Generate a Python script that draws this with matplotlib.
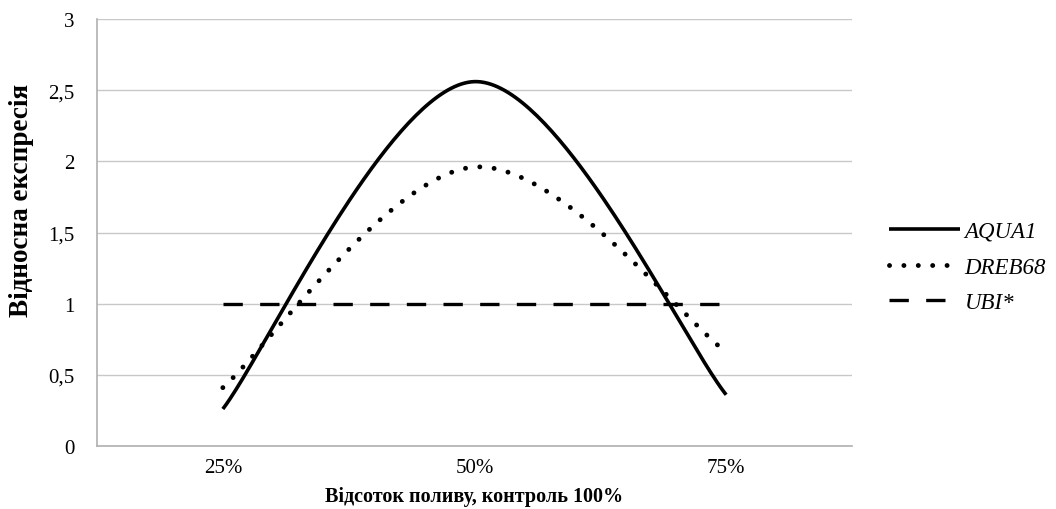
import numpy as np
import matplotlib
matplotlib.use("Agg")
import matplotlib.pyplot as plt
from matplotlib.lines import Line2D

categories = ["25%", "50%", "75%"]
aqua1 = [0.26, 2.56, 0.36]
dreb68 = [0.41, 1.96, 0.66]
ubi = [1.0, 1.0, 1.0]
series_names = ["AQUA1", "DREB68", "UBI*"]
y_ticks = [0, 0.5, 1, 1.5, 2, 2.5, 3]
y_tick_labels = ["0", "0,5", "1", "1,5", "2", "2,5", "3"]


def smooth(xs, ys, n=80):
    """Cubic Bezier smoothing through the points (spreadsheet-style)."""
    p = np.column_stack([xs, ys]).astype(float)
    ext = np.vstack([p[0], p, p[-1]])
    out = []
    t = np.linspace(0, 1, n)[:, None]
    for i in range(len(p) - 1):
        p0, p1 = ext[i + 1], ext[i + 2]
        c1 = p0 + (ext[i + 2] - ext[i]) / 6.0
        c2 = p1 - (ext[i + 3] - ext[i + 1]) / 6.0
        seg = ((1 - t) ** 3) * p0 + 3 * ((1 - t) ** 2) * t * c1 + 3 * (1 - t) * t ** 2 * c2 + t ** 3 * p1
        out.append(seg if i == 0 else seg[1:])
    s = np.vstack(out)
    return s[:, 0], s[:, 1]


plt.rcParams["font.family"] = ["Liberation Serif", "DejaVu Serif"]

W, H = 1056, 510
fig = plt.figure(figsize=(W / 100, H / 100), dpi=100)
ax = fig.add_axes([97 / W, 1 - 447 / H, (852 - 97) / W, (447 - 20) / H])

solid_style = dict(color="black", lw=2.6, solid_capstyle="butt")
dot_style = dict(color="black", lw=3.5, linestyle=(0, (0.01, 2.95)), dash_capstyle="round")
dash_style = dict(color="black", lw=2.4, linestyle=(0, (5.8, 5.2)), dash_capstyle="butt")

x = np.arange(len(categories))
sx, sy = smooth(x, aqua1)
ax.plot(sx, sy, **solid_style)
sx, sy = smooth(x, dreb68)
ax.plot(sx, sy, **dot_style)
sx, sy = smooth(x, ubi)
ax.plot(sx, sy, **dash_style)

ax.set_xlim(-0.5, 2.5)
ax.set_ylim(0, 3)
ax.set_xticks(x)
ax.set_xticklabels(categories, fontsize=15)
ax.set_yticks(y_ticks)
ax.set_yticklabels(y_tick_labels, fontsize=15)
ax.tick_params(axis="y", length=0, pad=16)
ax.tick_params(axis="x", length=0, pad=9)
ax.grid(axis="y", color="#c8c8c8", lw=1.0)
ax.set_axisbelow(True)
for side in ["top", "right"]:
    ax.spines[side].set_visible(False)
for side in ["left", "bottom"]:
    ax.spines[side].set_color("#b0b0b0")
    ax.spines[side].set_linewidth(1.2)

ax.set_xlabel("Відсоток поливу, контроль 100%", fontsize=14.5, fontweight="bold")
ax.xaxis.set_label_coords(0.5, (447 - 497) / 427, transform=ax.transAxes)
ax.xaxis.label.set_va("center")
ax.set_ylabel("Відносна експресія", fontsize=19.5, fontweight="bold")
ax.yaxis.set_label_coords((22 - 97) / 755, (447 - 200) / 427, transform=ax.transAxes)
ax.yaxis.label.set_va("center")

handles = [
    Line2D([], [], **solid_style),
    Line2D([], [], **dot_style),
    Line2D([], [], **dash_style),
]
leg = fig.legend(handles, series_names, loc="center left",
                 bbox_to_anchor=(868 / W, 1 - 268 / H),
                 frameon=False, handlelength=3.1, handletextpad=0.22, labelspacing=0.64,
                 prop={"family": "Liberation Serif", "style": "italic", "size": 16.5})

fig.savefig("out.png", dpi=100)
